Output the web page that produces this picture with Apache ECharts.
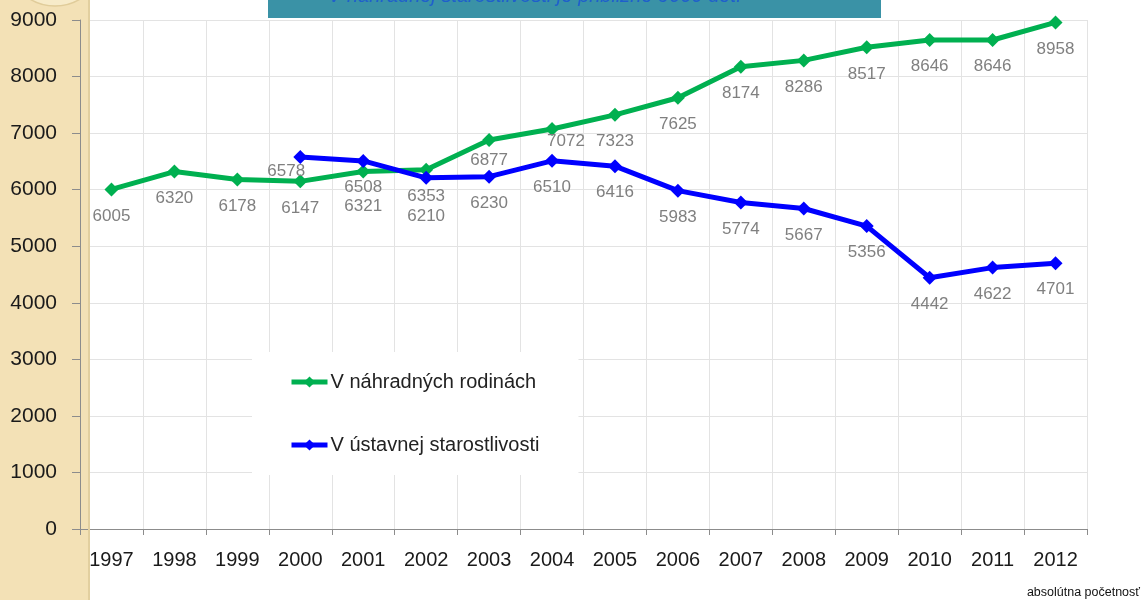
<!DOCTYPE html>
<html>
<head>
<meta charset="utf-8">
<script src="https://cdn.jsdelivr.net/npm/echarts@6/dist/echarts.min.js"></script>
<style>
html,body{margin:0;padding:0;background:#fff;}
#c{width:1146px;height:600px;}
</style>
</head>
<body>
<div id="c"></div>
<script>
const years = ['1997','1998','1999','2000','2001','2002','2003','2004','2005','2006','2007','2008','2009','2010','2011','2012'];
const nahradne = [6005,6320,6178,6147,6321,6353,6877,7072,7323,7625,8174,8286,8517,8646,8646,8958];
const ustavne = [null,null,null,6578,6508,6210,6230,6510,6416,5983,5774,5667,5356,4442,4622,4701];
const yTicks = [0,1000,2000,3000,4000,5000,6000,7000,8000,9000];
const seriesNames = ['V náhradných rodinách','V ústavnej starostlivosti'];
const bannerText = 'V náhradnej starostlivosti je približne 9000 detí';
const footnote = 'absolútna početnosť';

// label position adjustments (styling only)
const greenOffsets = {4:[0,8],6:[0,-6],7:[14,-14]};
const blueOffsets = {3:[-14,-12],5:[0,12]};

function build(values, offsets){
  return values.map((v,i)=>{
    if(v===null) return null;
    const o = {value:v};
    if(offsets[i]) o.label = {offset: offsets[i]};
    return o;
  });
}

const FONT = 'Liberation Sans';
const chart = echarts.init(document.getElementById('c'), null, {renderer:'canvas'});
const labelStyle = {show:true, position:'bottom', distance:11, color:'#808080', fontSize:17, fontFamily:FONT};

chart.setOption({
  backgroundColor:'#ffffff',
  animation:false,
  textStyle:{fontFamily:FONT},
  grid:{left:80, right:59, top:20, bottom:71, containLabel:false},
  graphic:[
    {type:'rect', z:-10, shape:{x:0,y:0,width:90,height:600}, style:{fill:'#f3e1b6'}},
    {type:'rect', z:1, shape:{x:81,y:0,width:9,height:528}, style:{fill:'#f3e1b6'}},
    {type:'rect', z:1, shape:{x:88,y:0,width:2,height:600}, style:{fill:'#e2cf9f'}},
    {type:'circle', z:-9, shape:{cx:55,cy:-42,r:48}, style:{fill:'#f7ebc9', stroke:'#e0cc9a', lineWidth:1.5}},
    {type:'rect', z:5, shape:{x:268,y:0,width:613,height:18}, style:{fill:'#3a92a6'}},
    {type:'text', z:6, style:{x:328, y:6, text:bannerText, fill:'#1f5fcc', font:'italic 20px "Liberation Sans"', textVerticalAlign:'bottom'}},
    {type:'text', z:6, style:{x:1140, y:599, text:footnote, fill:'#111', font:'12.5px "Liberation Sans"', textAlign:'right', textVerticalAlign:'bottom'}}
  ],
  legend:{
    orient:'vertical',
    left:252, top:352,
    backgroundColor:'#ffffff',
    padding:[20,39,20,37],
    itemGap:43,
    itemWidth:36, itemHeight:14,
    lineStyle:{width:5},
    textStyle:{fontSize:20, color:'#222', fontFamily:FONT, padding:[0,0,0,-2]},
    data:seriesNames
  },
  xAxis:{
    type:'category',
    data:years,
    boundaryGap:true,
    axisLine:{show:true, lineStyle:{color:'#8c8c8c', width:1}},
    axisTick:{show:true, length:6, lineStyle:{color:'#8c8c8c'}},
    axisLabel:{color:'#1a1a1a', fontSize:20, margin:21, fontFamily:FONT},
    splitLine:{show:true, lineStyle:{color:'#e3e3e3', width:1}}
  },
  yAxis:{
    type:'value',
    min:0, max:9000, interval:1000,
    axisLine:{show:true, lineStyle:{color:'#8c8c8c', width:1}},
    axisTick:{show:true, length:8, lineStyle:{color:'#8c8c8c'}},
    axisLabel:{color:'#1a1a1a', fontSize:21, margin:23, fontFamily:FONT,
      formatter:(v)=> yTicks.includes(v) ? String(v) : ''},
    splitLine:{show:true, lineStyle:{color:'#e3e3e3', width:1}}
  },
  series:[
    {
      name:seriesNames[0], type:'line', data:build(nahradne, greenOffsets),
      symbol:'diamond', symbolSize:14, z:3,
      lineStyle:{color:'#00b050', width:5},
      itemStyle:{color:'#00b050'},
      label:labelStyle
    },
    {
      name:seriesNames[1], type:'line', data:build(ustavne, blueOffsets),
      symbol:'diamond', symbolSize:14, z:4,
      lineStyle:{color:'#0000ff', width:5},
      itemStyle:{color:'#0000ff'},
      label:labelStyle
    }
  ]
});
</script>
</body>
</html>
